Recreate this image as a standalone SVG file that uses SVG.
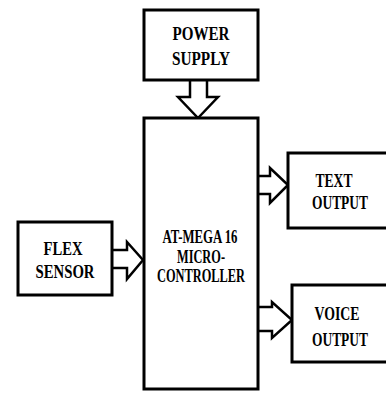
<svg xmlns="http://www.w3.org/2000/svg" width="386" height="393" viewBox="0 0 386 393">
<style>
.box{fill:#fff;stroke:#000;stroke-width:3}
.arr{fill:#fff;stroke:#000;stroke-width:2.5;stroke-linejoin:miter}
.t{font-family:"Liberation Serif","Times New Roman",serif;font-weight:bold;font-size:19px;fill:#000;text-anchor:middle}
</style>
<rect width="386" height="393" fill="#fff"/>
<g id="connectors">
<path class="arr" d="M190,80 V97 H178 L198,118 L218,97 H207 V80"/>
<path class="arr" d="M112,250 H127 V242 L143,260 L127,279 V268 H112"/>
<path class="arr" d="M258,176 H270 V168 L288,185 L270,203 V194 H258"/>
<path class="arr" d="M258,307 H272 V302 L292,320 L272,338 V331 H258"/>
</g>
<g id="power">
<rect class="box" x="144" y="10" width="114" height="70"/>
<text class="t" x="201" y="40" textLength="57" lengthAdjust="spacingAndGlyphs">POWER</text>
<text class="t" x="201" y="65" textLength="58" lengthAdjust="spacingAndGlyphs">SUPPLY</text>
</g>
<g id="mcu">
<rect class="box" x="144" y="118" width="114" height="271"/>
<text class="t" x="200" y="243" textLength="75" lengthAdjust="spacingAndGlyphs">AT-MEGA 16</text>
<text class="t" x="201" y="263" textLength="48" lengthAdjust="spacingAndGlyphs">MICRO-</text>
<text class="t" x="201" y="282" textLength="88" lengthAdjust="spacingAndGlyphs">CONTROLLER</text>
</g>
<g id="flex">
<rect class="box" x="18" y="222" width="94" height="73"/>
<text class="t" x="63" y="255" textLength="39" lengthAdjust="spacingAndGlyphs">FLEX</text>
<text class="t" x="65" y="278" textLength="59" lengthAdjust="spacingAndGlyphs">SENSOR</text>
</g>
<g id="text-output">
<rect class="box" x="288" y="153" width="100" height="75"/>
<text class="t" x="334" y="187" textLength="37" lengthAdjust="spacingAndGlyphs">TEXT</text>
<text class="t" x="340" y="209" textLength="56" lengthAdjust="spacingAndGlyphs">OUTPUT</text>
</g>
<g id="voice-output">
<rect class="box" x="292" y="285" width="96" height="77"/>
<text class="t" x="337" y="320" textLength="45" lengthAdjust="spacingAndGlyphs">VOICE</text>
<text class="t" x="340" y="346" textLength="56" lengthAdjust="spacingAndGlyphs">OUTPUT</text>
</g>
</svg>
